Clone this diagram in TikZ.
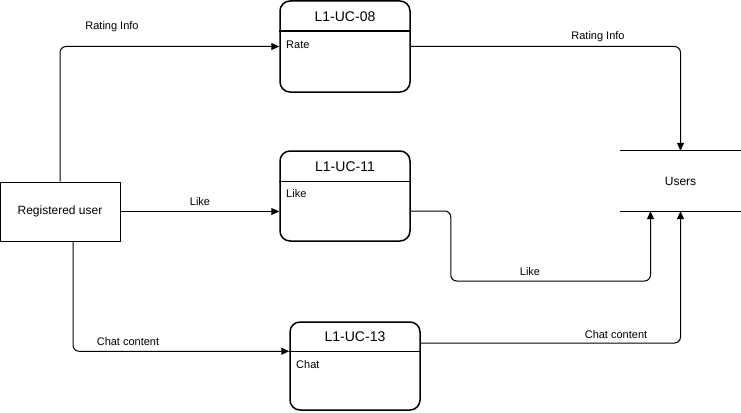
\documentclass[tikz,border=0pt]{standalone}
\usepackage{fontspec}
\setmainfont{Liberation Sans}
\usetikzlibrary{arrows.meta,calc}
\begin{document}
\begin{tikzpicture}[x=1pt,y=-1pt,
 ucbox/.style={draw,line width=1.5pt,rounded corners=10pt,minimum width=130pt,inner sep=0pt},
 lbl/.style={font=\fontsize{11}{13}\selectfont,inner sep=1pt},
 ttl/.style={font=\fontsize{14}{16}\selectfont,inner sep=1pt},
 divider/.style={line width=1.5pt},
 arr/.style={line width=1pt,-{Triangle[length=8pt,width=7pt]},rounded corners=6pt}]
\useasboundingbox (0,0) rectangle (741,412);
% process boxes
\node[ucbox,minimum height=91pt] (uc08) at (345,46.5) {};
\node[ucbox,minimum height=90pt] (uc11) at (345,196) {};
\node[ucbox,minimum height=88pt] (uc13) at (355,366) {};
\draw[divider] ([yshift=-31pt]uc08.north west) -- ([yshift=-31pt]uc08.north east);
\draw[divider] ([yshift=-31pt]uc11.north west) -- ([yshift=-31pt]uc11.north east);
\draw[divider] ([yshift=-30pt]uc13.north west) -- ([yshift=-30pt]uc13.north east);
\node[ttl] (t08) at (345,17) {L1-UC-08};
\node[ttl] (t11) at (345,167) {L1-UC-11};
\node[ttl] (t13) at (355,337) {L1-UC-13};
\node[lbl,anchor=west] (b08) at (285,45) {Rate};
\node[lbl,anchor=west] (b11) at (285,194) {Like};
\node[lbl,anchor=west] (b13) at (295,365) {Chat};
% external entity
\node[draw,line width=1pt,minimum width=120pt,minimum height=59pt,inner sep=0pt,
      font=\fontsize{12}{14}\selectfont] (reg) at (60,211.5) {Registered user};
% data store
\node[minimum width=121pt,minimum height=60pt,inner sep=0pt,
      font=\fontsize{12}{14}\selectfont] (users) at (680.5,181) {Users};
\draw[line width=1pt] (users.north west) -- (users.north east);
\draw[line width=1pt] (users.south west) -- (users.south east);
% flows
\draw[arr] (reg.north) |- (uc08.west);
\node[lbl] (l1) at (112,27) {Rating Info};
\draw[arr] (reg.east) -- (uc11.west |- reg.east);
\node[lbl] (l2) at (200,202) {Like};
\draw[arr] ([xshift=13pt]reg.south) |- ([yshift=-30pt]uc13.north west);
\node[lbl] (l3) at (128,342) {Chat content};
\draw[arr] (uc08.east) -| (users.north);
\node[lbl] (l4) at (598,37) {Rating Info};
\draw[arr] ([yshift=-15pt]uc11.east) -- ++(40,0) -- ++(0,70) -| ([xshift=-30pt]users.south);
\node[lbl] (l5) at (530,272) {Like};
\draw[arr] ([yshift=23pt]uc13.east) -| (users.south);
\node[lbl] (l6) at (616,335) {Chat content};
\end{tikzpicture}
\end{document}
